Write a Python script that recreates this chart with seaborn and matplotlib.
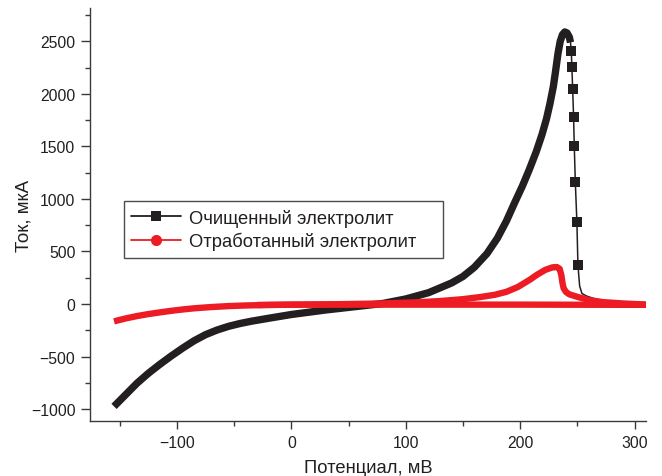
import numpy as np
import pandas as pd
import matplotlib
matplotlib.use("Agg")
import matplotlib.pyplot as plt
from matplotlib.lines import Line2D
from matplotlib.ticker import MultipleLocator
import seaborn as sns

# ---- data ----
# purified electrolyte: dense part of the scan
blk_x = [-155, -145, -135, -125, -115, -105, -95, -85, -75, -65, -55, -45, -35, -20, 0,
         30, 60, 80, 100, 120, 140, 150, 160, 171, 180, 188, 195, 202, 208, 214, 219,
         223, 226, 229, 231, 233, 235, 237, 239, 241, 243, 244]
blk_y = [-975, -865, -755, -660, -575, -495, -420, -350, -292, -248, -213, -186, -164, -136, -100,
         -57, -20, 5, 48, 108, 200, 262, 350, 480, 625, 790, 960, 1124, 1280, 1448, 1610,
         1762, 1905, 2070, 2220, 2380, 2500, 2565, 2590, 2580, 2540, 2490]
# purified electrolyte: fast drop (sparse points) and tail
drop_x = [244.0, 244.7, 245.2, 245.9, 246.7, 247.3, 248.2, 249.6, 250.5, 252, 254, 258, 265, 275, 290, 305]
drop_y = [2490, 2405, 2254, 2048, 1778, 1508, 1165, 778, 371, 171, 100, 76, 50, 29, 12, 3]
drop_markers = [1, 2, 3, 4, 5, 6, 7, 8]

# spent electrolyte: forward branch
red_fx = [-155, -145, -135, -125, -115, -105, -95, -85, -70, -55, -40, -20, 0, 50, 100, 150, 200, 250, 310]
red_fy = [-165, -138, -115, -96, -80, -65, -52, -41, -29, -20, -14, -9, -7, -6, -6, -6, -6, -7, -8]
# spent electrolyte: return branch with peak
red_rx = [310, 290, 272, 260, 250, 243, 240, 238, 237, 236, 234.5, 232, 228, 222, 215, 208,
          198, 188, 178, 165, 150, 130, 112, 80, 40, 0, -30]
red_ry = [-5, 5, 18, 38, 68, 92, 115, 150, 200, 275, 335, 352, 348, 325, 280, 228,
          162, 116, 88, 66, 46, 28, 17, 5, -2, -6, -10]

labels = ["Очищенный электролит", "Отработанный электролит"]
x_label = "Потенциал, мВ"
y_label = "Ток, мкА"

BLACK = "#231f20"
RED = "#ed1c24"
TXT = "#231f20"

sns.set_theme(style="ticks")
plt.rcParams["font.family"] = ["Liberation Sans", "DejaVu Sans"]

fig = plt.figure(figsize=(6.62, 4.77), dpi=100)
ax = fig.add_axes([90 / 662, 1 - 421.7 / 477, (646 - 90) / 662, (421.7 - 9.3) / 477])

df_b = pd.DataFrame({"x": blk_x, "y": blk_y})
df_d = pd.DataFrame({"x": drop_x, "y": drop_y})
df_rf = pd.DataFrame({"x": red_fx, "y": red_fy})
df_rr = pd.DataFrame({"x": red_rx, "y": red_ry})

sns.lineplot(data=df_b, x="x", y="y", sort=False, ax=ax, color=BLACK, lw=5.3,
             solid_capstyle="butt", solid_joinstyle="round", zorder=2)
sns.lineplot(data=df_d, x="x", y="y", sort=False, ax=ax, color=BLACK, lw=1.1,
             marker="s", markersize=6.5, markeredgewidth=0, markevery=drop_markers, zorder=2)
sns.lineplot(data=df_rf, x="x", y="y", sort=False, ax=ax, color=RED, lw=4.6,
             solid_capstyle="butt", solid_joinstyle="round", zorder=3)
sns.lineplot(data=df_rr, x="x", y="y", sort=False, ax=ax, color=RED, lw=4.6,
             solid_capstyle="butt", solid_joinstyle="round", zorder=3)

ax.set_xlim(-176, 310)
ax.set_ylim(-1111, 2815)
ax.xaxis.set_major_locator(MultipleLocator(100))
ax.xaxis.set_minor_locator(MultipleLocator(50))
ax.yaxis.set_major_locator(MultipleLocator(500))
ax.yaxis.set_minor_locator(MultipleLocator(250))

for s in ["top", "right"]:
    ax.spines[s].set_visible(False)
for s in ["left", "bottom"]:
    ax.spines[s].set_color("#3a3a3a")
    ax.spines[s].set_linewidth(1.0)

ax.tick_params(axis="both", which="major", length=6, width=1.0, color="#3a3a3a",
               labelsize=11.3, labelcolor=TXT, pad=4.5)
ax.tick_params(axis="both", which="minor", length=3.5, width=1.0, color="#3a3a3a")
ax.tick_params(axis="y", which="major", length=6.5, pad=4)

ax.set_xlabel(x_label, fontsize=13.2, color=TXT, labelpad=6.5)
ax.set_ylabel(y_label, fontsize=13.5, color=TXT, labelpad=-1.5)

handles = [
    Line2D([], [], color=BLACK, lw=1.3, marker="s", markersize=7.5, markeredgewidth=0),
    Line2D([], [], color=RED, lw=1.3, marker="o", markersize=8, markeredgewidth=0),
]
leg = ax.legend(handles, labels, loc="lower left",
                bbox_to_anchor=(0.061, 0.395, (443 - 124) / 556, 0.14), mode="expand",
                fontsize=13.2, frameon=True, fancybox=False, handlelength=2.7,
                handletextpad=0.45, labelspacing=0.3, borderpad=0.4, borderaxespad=0)
leg.get_frame().set_edgecolor(BLACK)
leg.get_frame().set_linewidth(1.0)
for t in leg.get_texts():
    t.set_color(TXT)

fig.savefig("out.png", dpi=100)
